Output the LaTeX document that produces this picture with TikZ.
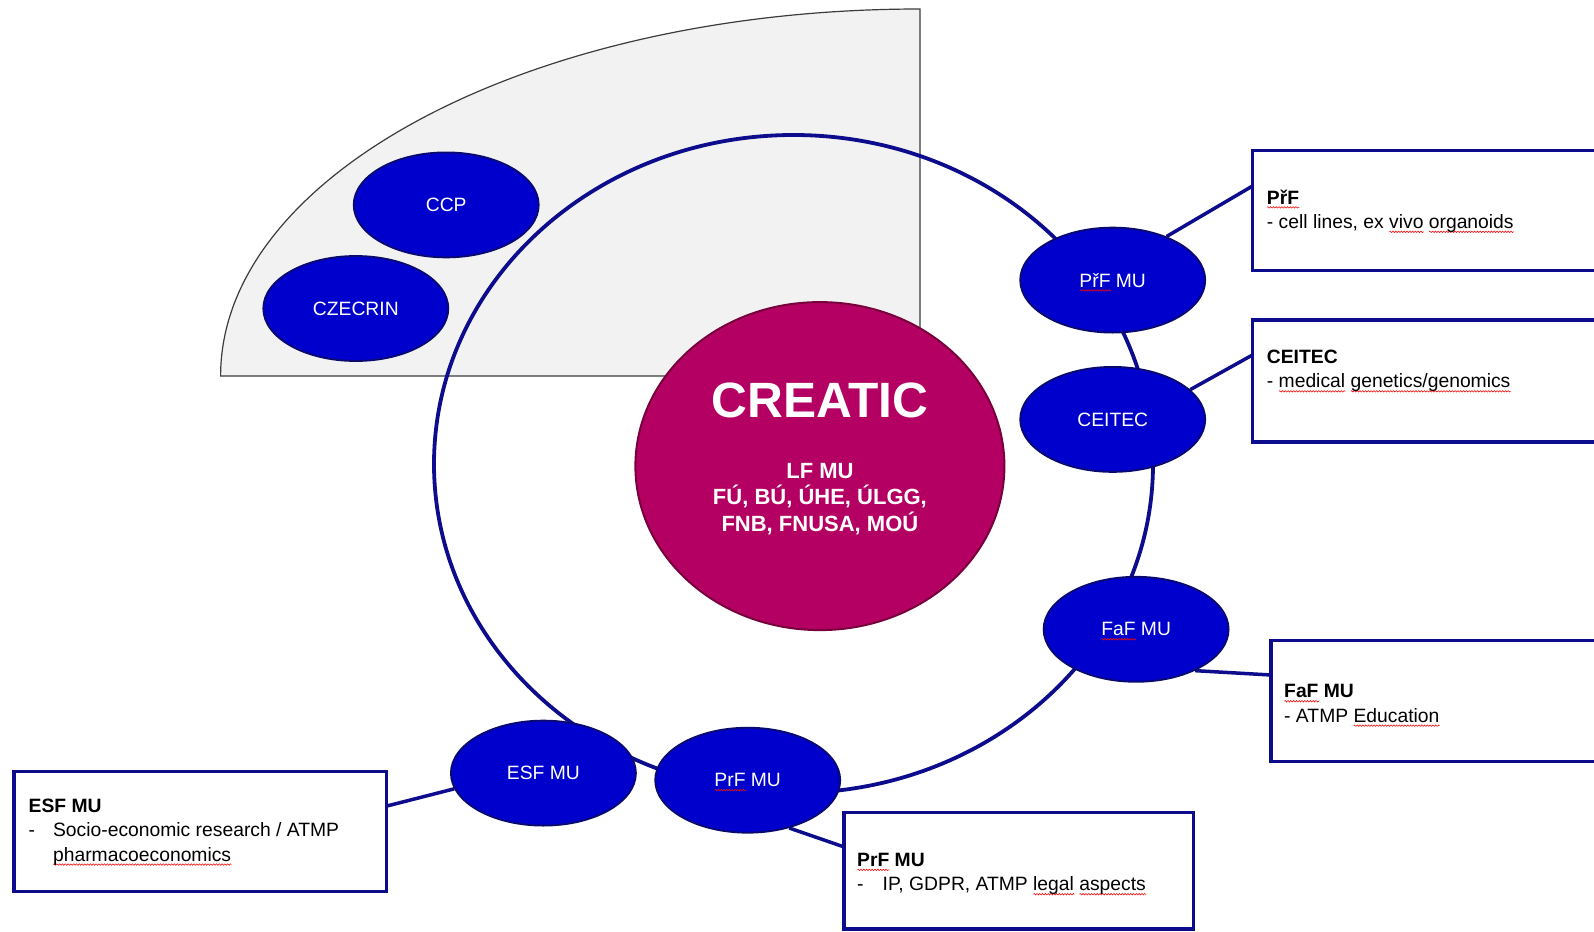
\documentclass[tikz,border=0pt]{standalone}
\usepackage{fontspec}
\setmainfont{Liberation Sans}
\usetikzlibrary{shapes.geometric,calc,decorations.pathmorphing}
\definecolor{navyline}{RGB}{12,12,140}
\definecolor{orgblue}{RGB}{0,0,204}
\definecolor{orgedge}{RGB}{10,10,110}
\definecolor{creacol}{RGB}{180,0,98}
\definecolor{creaedge}{RGB}{120,0,60}
\definecolor{shade}{RGB}{242,242,242}
\definecolor{shadeedge}{RGB}{60,60,60}
\newlength\sqlen
\newcommand\spellsq[1]{\settowidth\sqlen{#1}\rlap{\smash{\tikz[x=1pt,y=1pt,baseline=0pt]\draw[red,line width=0.55pt,line join=round,decorate,decoration={zigzag,amplitude=0.8pt,segment length=2.8pt}] (0pt,-3.4pt) -- (\sqlen,-3.4pt);}}#1}
\newcommand\orgfont{\fontsize{19.3}{23}\selectfont}
\newcommand\infofont{\fontsize{19.3}{24.4}\selectfont}
\pgfdeclarelayer{bg}
\pgfsetlayers{bg,main}
\tikzset{
  org/.style={ellipse, fill=orgblue, draw=orgedge, line width=1.8pt,
    minimum width=185pt, minimum height=105pt, inner sep=0pt,
    text=white, font=\orgfont},
  infobox/.style={rectangle, draw=navyline, line width=3.5pt, fill=white,
    anchor=north west, inner sep=0pt, outer sep=0pt},
  infotext/.style={anchor=west, inner sep=0pt, align=left, font=\infofont, text=black},
  link/.style={draw=navyline, line width=3.5pt},
  ringline/.style={draw=navyline, line width=3.8pt},
}
\begin{document}
\begin{tikzpicture}[x=1pt,y=-1pt]
\useasboundingbox (0,0) rectangle (1594,931);
\clip (0,0) rectangle (1594,931);

% central node
\node[ellipse, fill=creacol, draw=creaedge, line width=2pt, minimum width=369pt,
  minimum height=328pt, inner sep=0pt] (creatic) at (819.9,466.1) {};
\node[text=white, font=\fontsize{49.6}{50}\selectfont\bfseries, inner sep=0pt]
  (creatitle) at (819.9,400.5) {CREATIC};
\node[text=white, font=\fontsize{22}{26.4}\selectfont\bfseries, align=center, inner sep=0pt]
  (creasub) at (819.9,499.1) {LF MU\\FÚ, BÚ, ÚHE, ÚLGG,\\FNB, FNUSA, MOÚ};

% partner ellipses
\node[org] (ccp) at (446.2,204.9) {CCP};
\node[org] (czecrin) at (355.8,308.5) {CZECRIN};
\node[org] (prirf) at (1112.7,280.1) {\spellsq{PřF} MU};
\node[org] (ceitec) at (1112.7,419.4) {CEITEC};
\node[org] (faf) at (1136.1,629.3) {\spellsq{FaF} MU};
\node[org] (esf) at (543.4,773.1) {ESF MU};
\node[org] (prf) at (747.7,780.2) {\spellsq{PrF} MU};

% info boxes
\node[infobox, minimum width=420pt, minimum height=120pt] (pfbox) at (1252.5,150.5) {};
\node[infobox, minimum width=420pt, minimum height=122pt] (cebox) at (1252.5,320.2) {};
\node[infobox, minimum width=420pt, minimum height=121pt] (fafbox) at (1270.8,640.5) {};
\node[infobox, minimum width=349.7pt, minimum height=116.7pt] (prfbox) at (843.8,812.3) {};
\node[infobox, minimum width=372.1pt, minimum height=120pt] (esfbox) at (14.2,771.6) {};

\node[infotext] (pftext) at (1266.7,211) {\textbf{\spellsq{PřF}}\\- cell lines, ex \spellsq{vivo} \spellsq{organoids}};
\node[infotext] (cetext) at (1266.7,371) {\textbf{CEITEC}\\- \spellsq{medical} \spellsq{genetics/genomics}};
\node[infotext] (faftext) at (1284,703.5) {\textbf{\spellsq{FaF} MU}\\- ATMP \spellsq{Education}};
\node[infotext] (prftext) at (857,874) {\textbf{\spellsq{PrF} MU}\\\makebox[25.5pt][l]{-}IP, GDPR, ATMP \spellsq{legal} \spellsq{aspects}};
\node[infotext] (esftext) at (28.5,832) {\textbf{ESF MU}\\\makebox[24.4pt][l]{-}Socio-economic research / ATMP\\\hspace*{24.4pt}\spellsq{pharmacoeconomics}};

\begin{pgfonlayer}{bg}
  % grey quarter region
  \draw[fill=shade, draw=shadeedge, line width=1.2pt]
    (220.6,376) .. controls (220.6,173.3) and (533.7,9) .. (920,9) -- (920,376) -- cycle;
  % ring
  \draw[ringline] (793.5,464) ellipse [x radius=359.5pt, y radius=329pt];
  % connectors
  \draw[link] (prirf.39.6) -- ($(pfbox.north west)!0.296!(pfbox.south west)$);
  \draw[link] (ceitec.21.4) -- ($(cebox.north west)!0.285!(cebox.south west)$);
  \draw[link] (faf.-35.6) -- ($(fafbox.north west)!0.285!(fafbox.south west)$);
  \draw[link] (prf.-49.5) -- ($(prfbox.north west)!0.296!(prfbox.south west)$);
  \draw[link] (esf.-170.6) -- ($(esfbox.north east)!0.288!(esfbox.south east)$);
\end{pgfonlayer}
\end{tikzpicture}
\end{document}
